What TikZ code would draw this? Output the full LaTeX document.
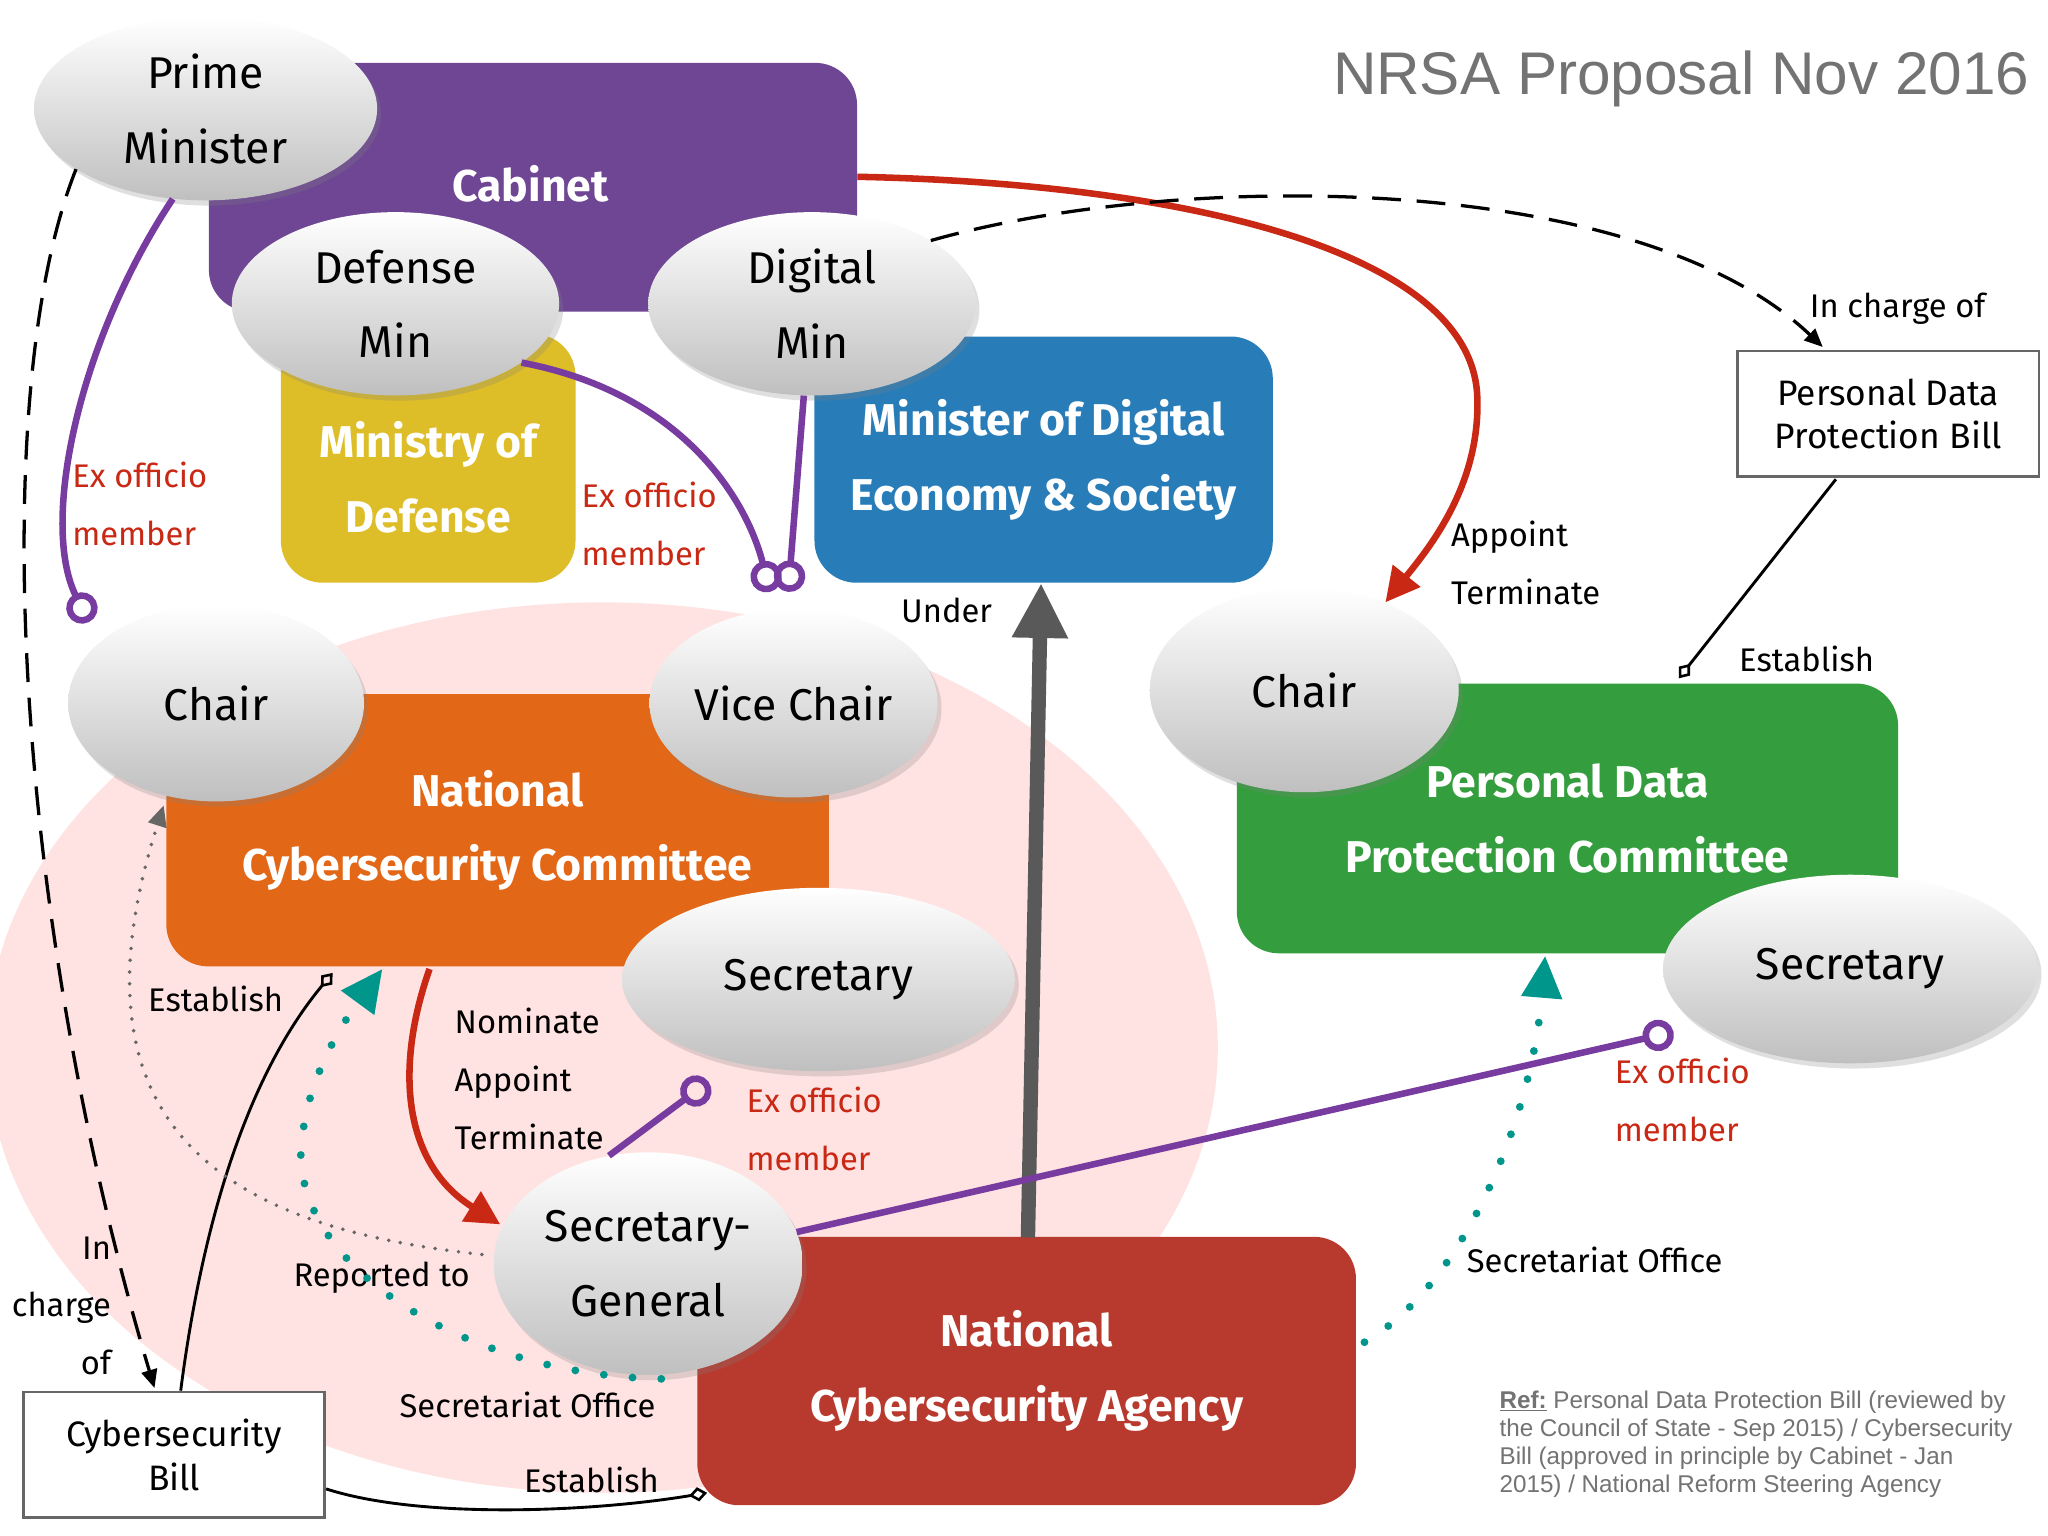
\documentclass[tikz,border=0pt]{standalone}
\usepackage{fontspec}
\setmainfont{Fira Sans}
\newfontfamily\titlefont{Liberation Sans}
\usetikzlibrary{arrows.meta,shapes.geometric,shadows}
\definecolor{cabp}{RGB}{110,70,148}
\definecolor{ylw}{RGB}{222,190,40}
\definecolor{blu}{RGB}{40,125,185}
\definecolor{org}{RGB}{226,104,24}
\definecolor{grn}{RGB}{52,158,62}
\definecolor{rdb}{RGB}{184,58,46}
\definecolor{pnk}{RGB}{255,226,226}
\definecolor{prp}{RGB}{120,60,160}
\definecolor{arr}{RGB}{200,40,20}
\definecolor{teal}{RGB}{0,150,140}
\definecolor{lbl}{RGB}{200,40,20}
\begin{document}
\begin{tikzpicture}[x=1pt,y=1pt,yscale=-1,
  box/.style={rounded corners=32pt,inner sep=0pt,text=white,align=center,
     font=\fontsize{34}{57}\selectfont\bfseries},
  ell/.style={ellipse,top color=white,bottom color=black!25,draw=none,
     drop shadow={opacity=0.25,shadow xshift=3pt,shadow yshift=-4pt},
     align=center,font=\fontsize{34}{57}\selectfont\mdseries,inner sep=0pt},
  lab/.style={font=\fontsize{25}{44}\selectfont,anchor=west,align=left,inner sep=0pt},
  red lab/.style={lab,text=lbl},
  pur/.style={draw=prp,line width=5pt,-{Circle[open,length=24pt,width=24pt,line width=5pt]}},
  rarr/.style={draw=arr,line width=5pt,-{Triangle[length=26pt,width=26pt]}},
  est/.style={draw=black,line width=2.2pt,-{Diamond[open,length=14pt,width=11pt,line width=2pt]}},
  chg/.style={draw=black,line width=2.5pt,dash pattern=on 22pt off 12pt,-{Triangle[length=14pt,width=12pt]}},
  tdot/.style={draw=teal,line width=6pt,line cap=round,dash pattern=on 0pt off 22pt,-{Triangle[length=32pt,width=30pt]}},
  bill/.style={draw=black!60,line width=2pt,fill=white,minimum width=230pt,minimum height=96pt,align=center,font=\fontsize{27}{33}\selectfont,inner sep=0pt}
]
\useasboundingbox (0,0) rectangle (1564,1173);
\fill[white] (0,0) rectangle (1564,1173);
\begin{scope}
\clip (0,0) rectangle (1564,1173);
\fill[pnk] (460,800) ellipse [x radius=470,y radius=340];
\end{scope}
% boxes
\node[box,fill=cabp,minimum width=495pt,minimum height=190pt] (cab) at (407,143) {};
\node[font=\fontsize{34}{40}\selectfont\bfseries,text=white] (cabt) at (405,140) {Cabinet};
\node[box,fill=ylw,minimum width=225pt,minimum height=190pt] (mod) at (327,350) {\\Ministry of\\Defense};
\node[box,fill=blu,minimum width=350pt,minimum height=188pt] (mdes) at (797,351) {Minister of Digital\\Economy \& Society};
\node[box,fill=org,minimum width=506pt,minimum height=208pt] (ncc) at (380,634) {National\\Cybersecurity Committee};
\node[box,fill=grn,minimum width=505pt,minimum height=206pt] (pdpc) at (1197,625) {Personal Data\\Protection Committee};
\node[box,fill=rdb,minimum width=503pt,minimum height=205pt] (nca) at (784,1047) {National\\Cybersecurity Agency};
% bills
\node[bill] (pdpb) at (1442,316) {Personal Data\\Protection Bill};
\node[bill] (cbill) at (133,1111) {Cybersecurity\\Bill};
% title and ref
\node[anchor=east,text=black!55,font=\titlefont\fontsize{46}{50}\selectfont,inner sep=0pt] (title) at (1550,60) {NRSA Proposal Nov 2016};
\node[anchor=north west,text=black!55,font=\titlefont\fontsize{18.5}{21.5}\selectfont,align=left,inner sep=0pt] (ref) at (1145,1062) {\textbf{\underline{Ref:}} Personal Data Protection Bill (reviewed by\\the Council of State - Sep 2015) / Cybersecurity\\Bill (approved in principle by Cabinet - Jan\\2015) / National Reform Steering Agency};
% grey under arrow
\coordinate (ua) at (785,945);
\draw[draw=black!65,line width=11pt,-{Triangle[length=42pt,width=40pt]}] (ua) -- (mdes.south -| 795,0);
\node[lab] (under) at (688,466) {Under};
% ellipses
\node[ell,minimum width=262pt,minimum height=140pt] (pm) at (157,83) {Prime\\Minister};
\node[ell,minimum width=250pt,minimum height=140pt] (dm) at (302,232) {Defense\\Min};
\node[ell,minimum width=250pt,minimum height=140pt] (gm) at (620,232) {Digital\\Min};
\node[ell,minimum width=226pt,minimum height=150pt] (chair) at (165,537) {Chair};
\node[ell,minimum width=220pt,minimum height=144pt] (vchair) at (606,537) {Vice Chair};
\node[ell,minimum width=300pt,minimum height=140pt] (sec) at (625,748) {Secretary};
\node[ell,minimum width=236pt,minimum height=170pt] (sg) at (495,965) {Secretary-\\General};
\node[ell,minimum width=236pt,minimum height=156pt] (chair2) at (996,527) {Chair};
\node[ell,minimum width=286pt,minimum height=144pt] (sec2) at (1413,740) {Secretary};
% purple ex officio
\coordinate (c1) at (68,475);
\draw[pur] (pm.250) .. controls (60,260) and (30,400) .. (c1);
\node[red lab] (l1) at (55,385) {Ex officio\\member};
\coordinate (c2) at (588,452);
\draw[pur] (dm.335) .. controls (520,300) and (570,380) .. (c2);
\node[red lab] (l2) at (444,400) {Ex officio\\member};
\coordinate (c3) at (602,452);
\draw[pur] (gm.265) -- (c3);
\coordinate (c4) at (541,826);
\draw[pur] (sg.110) -- (c4);
\node[red lab] (l3) at (570,862) {Ex officio\\member};
\coordinate (c5) at (1278,788);
\draw[pur] (sg.12) -- (c5);
\node[red lab] (l4) at (1233,840) {Ex officio\\member};
% red appoint
\coordinate (ra) at (1058,460);
\draw[rarr] (cab.east |- 0,135) .. controls (900,140) and (1120,190) .. (1128,300) .. controls (1132,370) and (1090,420) .. (ra);
\node[lab] (l5) at (1108,430) {Appoint\\Terminate};
\coordinate (rb) at (382,935);
\draw[rarr] (328,740) .. controls (300,820) and (310,890) .. (rb);
\node[lab] (l6) at (347,824) {Nominate\\Appoint\\Terminate};
% dashed in charge
\coordinate (ic) at (1392,265);
\draw[chg] (gm.28) .. controls (900,130) and (1250,130) .. (ic);
\node[lab] (l7) at (1382,236) {In charge of};
\draw[chg] (pm.205) .. controls (-10,300) and (10,700) .. (118,1060);
\node[lab,anchor=east,align=right] (l8) at (85,997) {In\\charge\\of};
% establish
\coordinate (e1) at (1282,518);
\draw[est] (1402,366) -- (e1);
\node[lab] (l9) at (1328,503) {Establish};
\coordinate (e2) at (254,743);
\draw[est] (138,1062) .. controls (155,930) and (190,820) .. (e2);
\node[lab] (l10) at (113,763) {Establish};
\coordinate (e3) at (540,1140);
\draw[est] (cbill.east |- 0,1137) .. controls (320,1160) and (450,1155) .. (e3);
\node[lab] (l11) at (400,1130) {Establish};
% dotted
\coordinate (rt) at (125,615);
\draw[draw=black!60,line width=3pt,line cap=round,dash pattern=on 0pt off 9pt,-{Triangle[length=16pt,width=14pt]}] (368,958) .. controls (200,940) and (40,880) .. (rt);
\node[lab] (l12) at (224,976) {Reported to};
\coordinate (t1) at (292,740);
\draw[tdot] (505,1053) .. controls (350,1050) and (210,960) .. (232,860) .. controls (240,810) and (270,770) .. (t1);
\node[lab] (l13) at (305,1073) {Secretariat Office};
\coordinate (t2) at (1180,730);
\draw[tdot] (1042,1025) .. controls (1120,980) and (1170,850) .. (t2);
\node[lab] (l14) at (1120,962) {Secretariat Office};
\end{tikzpicture}
\end{document}
